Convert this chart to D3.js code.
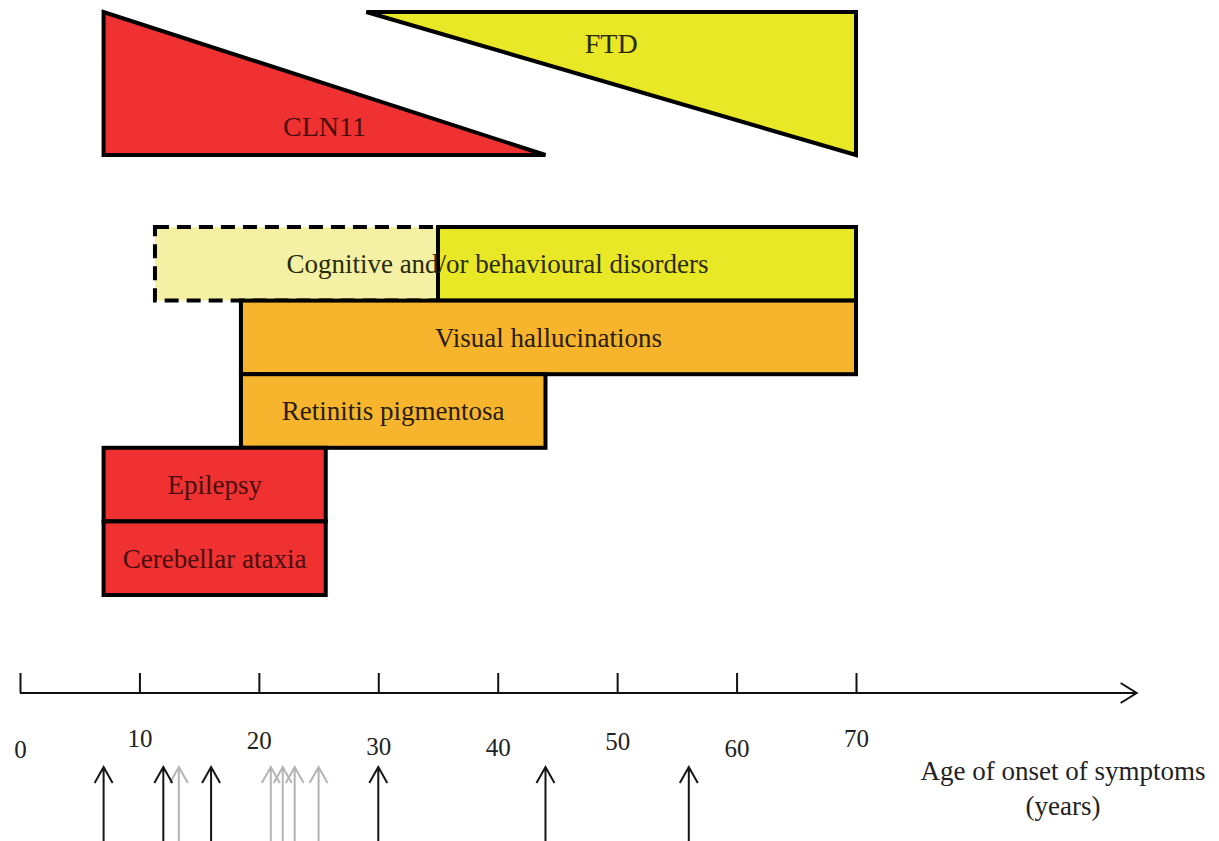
<!DOCTYPE html>
<html>
<head>
<meta charset="utf-8">
<script src="https://cdn.jsdelivr.net/npm/d3@7"></script>
<style>
  body { margin: 0; background: #fff; }
  text { font-family: "Liberation Serif", "Times New Roman", serif; }
</style>
</head>
<body>
<svg width="1219" height="841"></svg>
<script>
// age ranges of the symptoms (years)
const symptoms = ['Cognitive and/or behavioural disorders', 'Visual hallucinations', 'Retinitis pigmentosa', 'Epilepsy', 'Cerebellar ataxia'];
const symptomStart = [35, 18.5, 18.5, 7, 7];
const symptomEnd = [70, 70, 44, 25.6, 25.6];
const symptomKind = ['FTD', 'both', 'both', 'CLN11', 'CLN11'];

// the cognitive row starts earlier, shown dashed (uncertain)
const dashedStart = [11.3];
const dashedEnd = [35];

// phenotype wedges: [start, end]
const phenotypes = ['CLN11', 'FTD'];
const phenoStart = [7, 29];
const phenoEnd = [44, 70];

// ages of onset of the reported patients
const onsetBlack = [7, 12, 16, 30, 44, 56];
const onsetGrey = [13.3, 21, 22, 23, 25];

const ticks = [0, 10, 20, 30, 40, 50, 60, 70];
const axisTitle = ['Age of onset of symptoms', '(years)'];

// layout only
const tickLabelDy = [11, 0, 2, 8, 9, 3, 10, 0];
const colours = { CLN11: '#ef3131', both: '#f6b52d', FTD: '#e9e826', dashed: '#f4f1a4' };
const textColours = { CLN11: '#4a0d0d', both: '#2a1c06', FTD: '#2a2a06' };

const svg = d3.select('svg');
const x = d3.scaleLinear().domain([0, 70]).range([20, 856]);
const row = d3.scaleBand().domain(symptoms).range([227, 595]).paddingInner(0);
const tri = d3.scaleLinear().domain([0, 1]).range([12, 155]);

// wedges
const wedgePts = [
  // CLN11: wide at the left, narrowing to the right along the bottom
  (i) => [[x(phenoStart[i]), tri(0)], [x(phenoStart[i]), tri(1)], [x(phenoEnd[i]), tri(1)]],
  // FTD: thin at the left, widening to the right along the top
  (i) => [[x(phenoStart[i]), tri(0)], [x(phenoEnd[i]), tri(0)], [x(phenoEnd[i]), tri(1)]]
];
const wedges = svg.append('g');
phenotypes.forEach((p, i) => {
  wedges.append('path')
    .attr('d', d3.line()(wedgePts[i](i)) + 'Z')
    .attr('fill', colours[p])
    .attr('stroke', '#000')
    .attr('stroke-width', 4)
    .attr('stroke-linejoin', 'miter');
  wedges.append('text')
    .attr('x', (x(phenoStart[i]) + x(phenoEnd[i])) / 2)
    .attr('y', tri(i === 0 ? 0.8 : 0.22))
    .attr('dy', '0.35em')
    .attr('text-anchor', 'middle')
    .attr('font-size', 28)
    .attr('fill', textColours[p])
    .text(p);
});

// symptom bars
const bars = svg.append('g');
bars.selectAll('rect.dashed')
  .data(dashedStart)
  .join('rect')
    .attr('class', 'dashed')
    .attr('x', (d) => x(d))
    .attr('y', row(symptoms[0]))
    .attr('width', (d, i) => x(dashedEnd[i]) - x(d))
    .attr('height', row.bandwidth())
    .attr('fill', colours.dashed)
    .attr('stroke', '#000')
    .attr('stroke-width', 4)
    .attr('stroke-dasharray', '14 8');

bars.selectAll('rect.solid')
  .data(symptoms)
  .join('rect')
    .attr('class', 'solid')
    .attr('x', (d, i) => x(symptomStart[i]))
    .attr('y', (d) => row(d))
    .attr('width', (d, i) => x(symptomEnd[i]) - x(symptomStart[i]))
    .attr('height', row.bandwidth())
    .attr('fill', (d, i) => colours[symptomKind[i]])
    .attr('stroke', '#000')
    .attr('stroke-width', 4);

bars.selectAll('text')
  .data(symptoms)
  .join('text')
    .attr('x', (d, i) => {
      const s = i === 0 ? dashedStart[0] : symptomStart[i];
      return (x(s) + x(symptomEnd[i])) / 2 - (i === 0 ? 8 : 0);
    })
    .attr('y', (d) => row(d) + row.bandwidth() / 2)
    .attr('dy', '0.35em')
    .attr('text-anchor', 'middle')
    .attr('font-size', 27)
    .attr('fill', (d, i) => textColours[symptomKind[i]])
    .text((d) => d);

// age axis
const axisY = 693;
const axisEnd = 93.5;
const axis = svg.append('g')
  .attr('transform', `translate(0,${axisY})`)
  .call(d3.axisBottom(x).tickValues(ticks).tickSizeInner(-20).tickSizeOuter(0));
axis.select('.domain').remove();
axis.selectAll('.tick line').attr('stroke', '#111').attr('stroke-width', 2);
axis.selectAll('.tick text')
  .attr('font-family', '"Liberation Serif", serif')
  .attr('font-size', 25)
  .attr('fill', '#222')
  .attr('y', (d, i) => 45 + tickLabelDy[i])
  .attr('dy', '0.35em');

svg.append('line')
  .attr('x1', x(0)).attr('x2', x(axisEnd))
  .attr('y1', axisY).attr('y2', axisY)
  .attr('stroke', '#111').attr('stroke-width', 2);
svg.append('path')
  .attr('d', `M${x(axisEnd) - 16},${axisY - 10}L${x(axisEnd)},${axisY}L${x(axisEnd) - 16},${axisY + 10}`)
  .attr('fill', 'none').attr('stroke', '#111').attr('stroke-width', 2);

svg.append('text')
  .attr('x', 1063)
  .attr('y', 780)
  .attr('dy', '0.35em')
  .attr('text-anchor', 'middle')
  .attr('font-size', 27)
  .attr('fill', '#222')
  .selectAll('tspan')
  .data(axisTitle)
  .join('tspan')
    .attr('x', 1063)
    .attr('dy', (d, i) => (i === 0 ? 0 : 35))
    .text((d) => d);

// onset arrows
function onsetArrows(data, colour) {
  const g = svg.append('g')
    .attr('fill', 'none')
    .attr('stroke', colour)
    .attr('stroke-width', 2);
  g.selectAll('path')
    .data(data)
    .join('path')
      .attr('d', (d) => {
        const cx = x(d);
        return `M${cx},841L${cx},767M${cx - 9},783L${cx},767L${cx + 9},783`;
      });
}
onsetArrows(onsetGrey, '#b4b4b4');
onsetArrows(onsetBlack, '#151515');
</script>
</body>
</html>
